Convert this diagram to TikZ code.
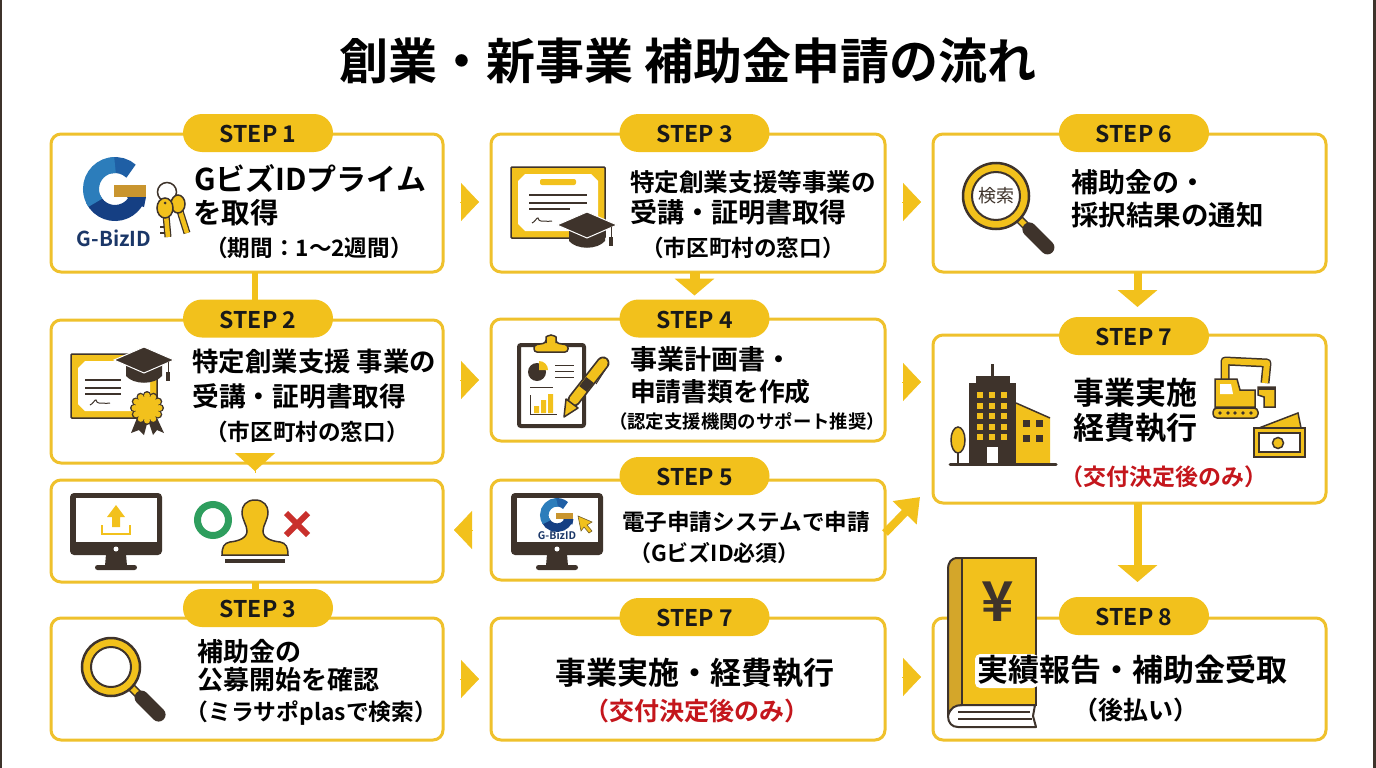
\documentclass[tikz,border=0pt]{standalone}
\usepackage{fontspec}
\setmainfont{Noto Sans CJK JP}[BoldFont=* Bold]
\usetikzlibrary{arrows.meta,calc}
\definecolor{yel}{HTML}{F2C11C}
\definecolor{bord}{HTML}{EFC12C}
\definecolor{dk}{HTML}{3E332B}
\definecolor{redt}{HTML}{C4161C}
\definecolor{spine}{HTML}{D4A62A}
\definecolor{gold}{HTML}{C9952F}
\definecolor{navy}{HTML}{153F83}
\definecolor{bluel}{HTML}{2C7DBB}
\definecolor{bluem}{HTML}{1F5FA5}
\definecolor{txtnavy}{HTML}{1B3768}
\definecolor{grn}{HTML}{2E9E5E}
\definecolor{crs}{HTML}{C9302C}
\tikzset{
 box/.style={draw=bord,line width=3pt,fill=white,rounded corners=10pt,outer sep=0pt,inner sep=0pt},
 pill/.style={fill=yel,rounded corners=19pt,minimum width=150pt,minimum height=38pt,inner sep=0pt,outer sep=0pt,text height=19pt,text depth=0pt,font=\bfseries\fontsize{23}{23}\selectfont,text=black!90},
 chev/.style={draw=yel,line width=.4pt,-{Triangle[length=18pt,width=38pt,sep=0pt]}},
 shaft/.style={draw=yel,-{Triangle[length=17pt,width=39pt,sep=0pt]}},
 link/.style={draw=yel},
 line/.style={dk,line width=1.5pt},
 word/.style={inner sep=0pt,outer sep=0pt,text=black},
}
\newcommand{\lab}[6][base west]{\node[word,anchor=#1,font=\bfseries\fontsize{#5}{#5}\selectfont] (#2) at ({#3},{#4+0.37*#5}) {#6};}
\newcommand{\labr}[6][base]{\node[word,anchor=#1,text=redt,font=\bfseries\fontsize{#5}{#5}\selectfont] (#2) at ({#3},{#4+0.37*#5}) {#6};}
\newcommand{\monit}[2]{\begin{scope}[shift={(#1,#2)}]
 \fill[dk,rounded corners=4pt] (0,0) rectangle (92,62);
 \fill[white] (6,5) rectangle (87,49);
 \fill[white] (46,56) circle[radius=2.5];
 \fill[dk] (36,61) -- (56,61) -- (57,73) -- (35,73) -- cycle;
 \fill[dk,rounded corners=2.5pt] (25,72) rectangle (67,77);
\end{scope}}
\newcommand{\glogo}[3]{\begin{scope}[shift={(#1,#2)},scale=#3]
 \draw[bluem,line width=#3*16pt] ({24*cos(-48)},{24*sin(-48)}) arc[start angle=-48,end angle=-100,radius=24];
 \draw[navy,line width=#3*16pt] ({24*cos(-205)},{24*sin(-205)}) arc[start angle=-205,end angle=-332,radius=24];
 \draw[bluel,line width=#3*16pt] ({24*cos(-90)},{24*sin(-90)}) arc[start angle=-90,end angle=-215,radius=24];
 \fill[navy] (12,8) -- (31,8) -- (29,18) -- (16,14) -- cycle;
 \fill[gold] (-1,-4) rectangle (31,8);
\end{scope}}
\newcommand{\gradcap}[2]{\begin{scope}[shift={(#1,#2)}]
 \fill[dk] (-18,3) -- (-18,16) .. controls (-10,25) and (10,25) .. (18,16) -- (18,3) -- cycle;
 \draw[fill=dk,draw=white,line width=1pt] (0,-13) -- (30,0) -- (0,13) -- (-30,0) -- cycle;
 \draw[dk,line width=1pt] (24,2) -- (24,14);
 \fill[dk] (22,12) rectangle (26,21);
\end{scope}}
\newcommand{\diplo}[4]{
 \draw[line,fill=yel,rounded corners=1pt] (#1,#2) rectangle (#3,#4);
 \fill[white] ({#1+14},{#2+7}) -- ({#3-14},{#2+7}) -- ({#3-7},{#2+14}) -- ({#3-7},{#4-14}) -- ({#3-14},{#4-7}) -- ({#1+14},{#4-7}) -- ({#1+7},{#4-14}) -- ({#1+7},{#2+14}) -- cycle;}
\newcommand{\sign}[2]{\draw[dk,line width=1pt] (#1,#2) .. controls ({#1+3},{#2-1}) and ({#1+5},{#2-6}) .. ({#1+6},{#2-5}) .. controls ({#1+7},{#2-4}) and ({#1+7},{#2-1}) .. ({#1+9},{#2-2}) .. controls ({#1+11},{#2-3}) and ({#1+12},{#2-1}) .. ({#1+20},{#2-2});}
\newcommand{\magn}[5]{
 \draw[dk,line width=8.5pt] ({#1+.71*#3},{#2+.71*#3}) -- ({#1+.71*#3+9},{#2+.71*#3+9});
 \draw[yel,line width=5.5pt] ({#1+.71*#3},{#2+.71*#3}) -- ({#1+.71*#3+8},{#2+.71*#3+8});
 \draw[dk,line width=14pt,line cap=round] ({#1+.71*#3+10},{#2+.71*#3+10}) -- ({#1+.71*#3+#5},{#2+.71*#3+#5});
 \draw[dk,line width=2.5pt,fill=yel] (#1,#2) circle[radius=#3];
 \draw[dk,line width=2pt,fill=white] (#1,#2) circle[radius=#4];}
\begin{document}
\begin{tikzpicture}[x=1pt,y=-1pt]
\useasboundingbox (0,0) rectangle (1376,768);
\fill[white] (0,0) rectangle (1376,768);
\fill[dk] (0,0) rectangle (2,768);
\fill[dk] (1373,0) rectangle (1376,768);
% title
\node[word,anchor=base,font=\bfseries\fontsize{49}{49}\selectfont] (title) at (688,80) {創業・新事業 補助金申請の流れ};
\coordinate (jt) at (920,497);
% boxes
\node[box,minimum width=392pt,minimum height=138pt] (A) at (247,203) {};
\node[box,minimum width=392pt,minimum height=143pt] (B) at (247,391.5) {};
\node[box,minimum width=392pt,minimum height=102pt] (C) at (247,531) {};
\node[box,minimum width=392pt,minimum height=122pt] (D) at (247,679) {};
\node[box,minimum width=394pt,minimum height=138pt] (E) at (688,203) {};
\node[box,minimum width=394pt,minimum height=122pt] (F) at (688,380) {};
\node[box,minimum width=394pt,minimum height=100pt] (G) at (688,530) {};
\node[box,minimum width=394pt,minimum height=122pt] (H) at (688,679) {};
\node[box,minimum width=393pt,minimum height=138pt] (I) at (1129.5,203) {};
\node[box,minimum width=393pt,minimum height=168pt] (J) at (1129.5,419) {};
\node[box,minimum width=393pt,minimum height=122pt] (K) at (1129.5,679) {};
% pills
\node[pill] (pA) at (258,133) {STEP 1};
\node[pill] (pB) at (258,318.5) {STEP 2};
\node[pill] (pD) at (258,608) {STEP 3};
\node[pill] (pE) at (694.5,133) {STEP 3};
\node[pill] (pF) at (694.5,318.5) {STEP 4};
\node[pill] (pG) at (694.5,476) {STEP 5};
\node[pill] (pH) at (694.5,617) {STEP 7};
\node[pill] (pI) at (1134,133) {STEP 6};
\node[pill] (pJ) at (1134,336) {STEP 7};
\node[pill] (pK) at (1134,616) {STEP 8};
% connectors
\draw[link,line width=6pt] ([xshift=-3pt]pB.north |- A.south) -- ([xshift=-3pt]pB.north);
\draw[link,line width=7pt] ([xshift=-3pt]pD.north |- C.south) -- ([xshift=-3pt]pD.north);
\draw[shaft,line width=10pt,shorten >=4pt] (pF.north |- E.south) -- (pF.north);
\draw[shaft,line width=8pt,shorten >=10pt] ([xshift=3.5pt]pJ.north |- I.south) -- ([xshift=3.5pt]pJ.north);
\draw[shaft,line width=8pt,shorten >=15pt] ([xshift=3.5pt]pK.north |- J.south) -- ([xshift=3.5pt]pK.north);
\draw[chev,shorten <=17pt,shorten >=12pt] ([yshift=1pt]A.east) -- ([yshift=1pt]E.west);
\draw[chev,shorten <=17pt,shorten >=12pt] (B.east |- F.west) -- (F.west);
\draw[chev,shorten <=17pt,shorten >=12pt] (D.east) -- (H.west);
\draw[chev,shorten <=17pt,shorten >=12pt] ([yshift=1pt]E.east) -- ([yshift=1pt]I.west);
\draw[chev,shorten <=17pt,shorten >=12pt] ([yshift=-2pt]F.east) -- ([yshift=-2pt]F.east -| J.west);
\draw[chev,shorten <=17pt,shorten >=12pt] ([yshift=2pt]H.east) -- ([yshift=2pt]H.east -| K.west);
\draw[chev,shorten <=19pt,shorten >=11pt] (G.west) -- (G.west -| C.east);
\draw[draw=yel,line width=8pt,-{Triangle[length=22pt,width=32pt,sep=0pt]}] ([yshift=-3pt]G.east) -- (jt);
\draw[chev,-{Triangle[length=18pt,width=40pt,sep=0pt]},shorten >=9pt] ([yshift=-9.5pt]B.south -| pB.south) ++(-3,0) -- ([xshift=-3pt]C.north -| pB.south);
% ---- A icons
\glogo{115}{189}{1}
\node[word,anchor=center,text=txtnavy,font=\bfseries\fontsize{20.5}{20.5}\selectfont] (gbA) at (114,238) {G-BizID};
\draw[line] (167,192) circle[radius=9.5];
\draw[dk,line width=7pt] (180,211) -- (187,233);
\draw[yel,line width=4.5pt] (180,211) -- (187,233);
\draw[line,fill=yel] (178,204) ellipse[x radius=7,y radius=9];
\draw[dk,line width=7pt] (166,215) -- (168,237);
\draw[yel,line width=4.5pt] (166,215) -- (168,237);
\draw[line,fill=yel] (165,208) ellipse[x radius=8,y radius=10];
\fill[dk] (165,203) circle[radius=1.5];
\fill[dk] (160,226) rectangle (164,228); \fill[dk] (160,232) rectangle (164,234);
\lab{a1}{194}{179}{30}{GビズIDプライム}
\lab{a2}{193}{213}{28.5}{を取得}
\lab[base]{a3}{309}{248}{22.6}{（期間：1〜2週間）}
% ---- B icons
\diplo{71}{354}{157}{418}
\draw[dk,line width=1.2pt] (85,380) -- (121,380) (85,388) -- (121,388) (85,394) -- (121,394);
\sign{90}{405}
\gradcap{144}{360}
\fill[dk] (137,418) -- (131,433) -- (139,430) -- (144,435) -- (148,420) -- (153,435) -- (157,430) -- (164,433) -- (157,418) -- cycle;
\foreach \a in {0,30,...,330}{\fill[dk] ({147+13*cos(\a)},{408+13*sin(\a)}) circle[radius=4];}
\foreach \a in {0,30,...,330}{\fill[yel] ({147+12.5*cos(\a)},{408+12.5*sin(\a)}) circle[radius=3];}
\fill[yel] (147,408) circle[radius=12];
\lab{b1}{192.5}{362}{26.4}{特定創業支援 事業の}
\lab{b2}{192.5}{397}{26.7}{受講・証明書取得}
\lab[base]{b3}{307}{432}{22.6}{（市区町村の窓口）}
% ---- C icons
\monit{70}{493}
\fill[yel] (116,505) -- (125,517) -- (120,517) -- (120,527) -- (112,527) -- (112,517) -- (107,517) -- cycle;
\draw[yel,line width=2.5pt] (102,525) -- (102,534) -- (130,534) -- (130,525);
\draw[grn,line width=7pt] (213,520) circle[radius=15.5];
\draw[line,fill=yel] (255,500) .. controls (264,500) and (268,506) .. (268,512) .. controls (268,520) and (263,525) .. (263,531) .. controls (263,538) and (271,541) .. (280,542) .. controls (286,543) and (288,547) .. (288,555) -- (222,555) .. controls (222,547) and (224,543) .. (230,542) .. controls (239,541) and (247,538) .. (247,531) .. controls (247,525) and (242,520) .. (242,512) .. controls (242,506) and (246,500) .. (255,500) -- cycle;
\fill[dk] (225,559) rectangle (285,563);
\draw[crs,line width=6pt] (286,513) -- (308,535) (308,513) -- (286,535);
% ---- D
\magn{111}{667}{29}{20}{27}
\lab{d1}{197}{652}{26}{補助金の}
\lab{d2}{197}{680}{26}{公募開始を確認}
\lab{d3}{185.5}{712}{22.8}{（ミラサポplasで検索）}
% ---- E
\diplo{511}{167}{605}{238}
\fill[yel,rounded corners=2pt] (540,179) rectangle (576,185);
\draw[dk,line width=1.2pt] (529,195) -- (587,195) (529,203) -- (587,203) (529,209) -- (570,209);
\sign{532}{223}
\gradcap{587}{225}
\lab{e1}{630}{182}{24.6}{特定創業支援等事業の}
\lab{e2}{630}{213}{27}{受講・証明書取得}
\lab[base]{e3}{743}{248}{22.6}{（市区町村の窓口）}
% ---- F
\draw[dk,line width=4pt,fill=white,rounded corners=2pt] (519,345) rectangle (584,426);
\draw[line,fill=yel,rounded corners=3pt] (534,352) -- (534,345) -- (546,343) -- (546,340) arc[start angle=180,end angle=360,radius=5] -- (556,343) -- (568,345) -- (568,352) -- cycle;
\fill[dk] (537,372) circle[radius=9];
\fill[yel] (539,370) -- (539,361) arc[start angle=-90,end angle=0,radius=9] -- cycle;
\draw[dk,line width=1pt] (555,365) -- (574,365) (555,371) -- (574,371) (555,377) -- (574,377) (530,387) -- (553,387);
\draw[dk,line width=1pt] (530,395) -- (530,414) -- (557,414);
\fill[yel] (534,406) rectangle (539,413) (541,400) rectangle (546,413) (548,394) rectangle (553,413);
\draw[dk,line width=1pt] (605,370) -- (596,384);
\draw[dk,line width=13pt,line cap=round] (574,400) -- (603,363);
\draw[yel,line width=9.5pt,line cap=round] (574,400) -- (603,363);
\draw[dk,line width=9.5pt] (583,389) -- (590,380);
\draw[line,fill=yel,line join=round] (564,417) -- (566,399) -- (578,408) -- cycle;
\lab{f1}{630}{360}{27}{事業計画書・}
\lab{f2}{630}{392}{25.8}{申請書類を作成}
\lab{f3}{609}{422}{18.4}{（認定支援機関のサポート推奨）}
% ---- G
\monit{511}{493}
\glogo{557}{515}{.53}
\node[word,anchor=center,text=txtnavy,font=\bfseries\fontsize{10.5}{10.5}\selectfont] (gbG) at (557,535) {G-BizID};
\draw[dk!70!yel,fill=yel,line width=.6pt] (578,516) -- (592,522) -- (587,525) -- (592,531) -- (589,533) -- (584,527) -- (581,531) -- cycle;
\lab{g1}{622}{522}{22.6}{電子申請システムで申請}
\lab{g2}{629}{553}{22}{（GビズID必須）}
% ---- H
\lab[base]{h1}{695}{673}{31}{事業実施・経費執行}
\labr{h2}{697}{711}{25}{（交付決定後のみ）}
% ---- I
\magn{996}{196}{33}{24}{28}
\node[word,text=dk,font=\fontsize{18}{18}\selectfont] (kens) at (996,196) {検索};
\lab{i1}{1071}{183}{27}{補助金の・}
\lab{i2}{1071}{215}{27.5}{採択結果の通知}
% ---- J
\fill[dk] (969,383) rectangle (1016,463);
\fill[dk] (976,376) rectangle (1010,384);
\fill[dk] (991,364) rectangle (993.5,377);
\foreach \yy in {395,406,416,427,437}{\foreach \xx in {980,992,1004}{\fill[yel] ({\xx-2.8},{\yy-2.8}) rectangle ({\xx+2.8},{\yy+2.8});}}
\fill[white] (987,447) rectangle (998,463);
\fill[yel] (1016,403) -- (1050,418) -- (1050,463) -- (1016,463) -- cycle;
\draw[dk,line width=1.5pt] (1016,403) -- (1050,418);
\foreach \yy in {423,438}{\foreach \xx in {1026,1039}{\fill[dk] ({\xx-3.5},{\yy-3.5}) rectangle ({\xx+3.5},{\yy+3.5});}}
\draw[dk,line width=1.5pt] (958,440) -- (958,463);
\draw[line,fill=yel] (958,440) ellipse[x radius=7,y radius=13];
\draw[dk,line width=3pt,line cap=round] (950,464.5) -- (1056,464.5);
% excavator
\draw[dk,line width=9pt,line join=round] (1225,382) -- (1225,361) -- (1267,363) -- (1265,383);
\draw[yel,line width=6pt,line join=round] (1225,382) -- (1225,361) -- (1267,363) -- (1265,383);
\draw[line,fill=yel] (1215,379) -- (1237,379) -- (1240,390) -- (1255,390) -- (1255,407) -- (1215,407) -- cycle;
\fill[white] (1220,384) -- (1231,384) -- (1233,394) -- (1220,394) -- cycle;
\draw[line,fill=yel,rounded corners=4pt] (1213,408) rectangle (1258,418);
\foreach \xx in {1220,1228,1235,1243,1251}{\fill[dk] (\xx,413) circle[radius=1.8];}
\draw[line,fill=yel] (1258,387) -- (1275,387) -- (1275,407) -- (1264,407) -- (1264,397) -- (1258,395) -- cycle;
\fill[dk] (1258,387) rectangle (1275,390);
% money
\draw[line,fill=yel] (1259,428) -- (1298,413) -- (1301,428) -- cycle;
\draw[line,fill=yel] (1254,428) rectangle (1305,457);
\draw[line,fill=white] (1259,433) rectangle (1300,452);
\draw[line,fill=yel] (1278,443) circle[radius=5.5];
\lab{j1}{1073}{393}{31}{事業実施}
\lab{j2}{1073}{428}{31}{経費執行}
\labr[base]{j3}{1164}{477}{23}{（交付決定後のみ）}
% ---- K book
\draw[dk,line width=2pt,fill=white,line join=round] (1035,705) -- (958,705) .. controls (950,705) and (948,712) .. (948,716) .. controls (948,723) and (952,727) .. (958,727) -- (1036,727) -- (1033,716) -- cycle;
\draw[dk,line width=2pt] (958,712) -- (1030,712) (958,719) -- (1032,719);
\draw[dk,line width=2pt,fill=spine,line join=round] (962,558) -- (958,558) .. controls (951,558) and (948,562) .. (948,570) -- (948,716) .. controls (950,708) and (955,705) .. (962,705) -- cycle;
\draw[dk,line width=2pt,fill=yel] (962,558) rectangle (1036,705);
\node[word,text=dk,font=\bfseries\fontsize{55}{55}\selectfont] (yen) at (998,602) {¥};
\fill[white,rounded corners=5pt] (975,654) rectangle (1038,688);
\lab{k1}{977}{670}{31}{実績報告・補助金受取}
\lab[base]{k2}{1136}{710}{25}{（後払い）}
\end{tikzpicture}
\end{document}
